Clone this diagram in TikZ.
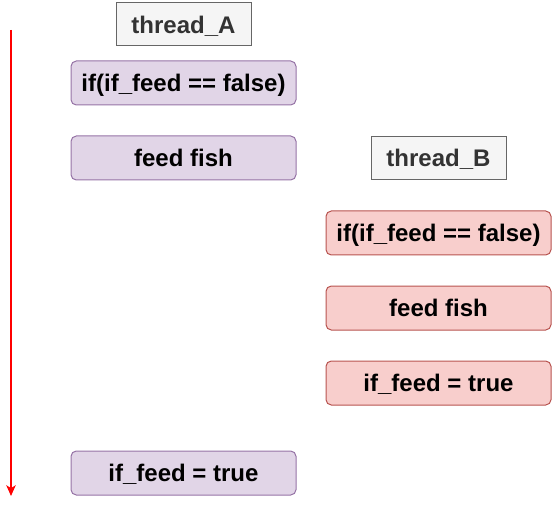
\documentclass[tikz,border=0pt]{standalone}
\usepackage{fontspec}
\setmainfont{Liberation Sans}
\usetikzlibrary{arrows.meta}
\definecolor{purpfill}{HTML}{E1D5E7}
\definecolor{purpline}{HTML}{9673A6}
\definecolor{redfill}{HTML}{F8CECC}
\definecolor{redline}{HTML}{B85450}
\definecolor{grayfill}{HTML}{F5F5F5}
\definecolor{grayline}{HTML}{666666}
\definecolor{graytext}{HTML}{333333}
\begin{document}
\begin{tikzpicture}[x=0.75pt,y=-0.75pt,
  txt/.style={font=\fontsize{18}{21}\selectfont\bfseries,text height=14pt,text depth=1pt},
  box/.style={txt,minimum width=225*0.75pt,minimum height=44*0.75pt,inner sep=0pt,line width=0.75pt,rounded corners=4pt},
  pbox/.style={box,draw=purpline,fill=purpfill},
  rbox/.style={box,draw=redline,fill=redfill},
  tbox/.style={txt,draw=grayline,fill=grayfill,text=graytext,minimum width=135*0.75pt,minimum height=43*0.75pt,inner sep=0pt,line width=0.75pt}]
\useasboundingbox (0,0) rectangle (552,509);
\node[tbox] (ta) at (183.5,24.5) {thread\_A};
\node[pbox] (a1) at (183.5,83) {if(if\_feed == false)};
\node[pbox] (a2) at (183.5,158) {feed fish};
\node[tbox] (tb) at (438.5,158) {thread\_B};
\node[rbox] (b1) at (438.5,233) {if(if\_feed == false)};
\node[rbox] (b2) at (438.5,308) {feed fish};
\node[rbox] (b3) at (438.5,383) {if\_feed = true};
\node[pbox] (a3) at (183.5,473) {if\_feed = true};
\coordinate (t0) at (11,30);
\coordinate (t1) at (11,496);
\draw[red,line width=1pt,-{Stealth[length=8pt,width=7pt,inset=2pt]}] (t0) -- (t1);
\end{tikzpicture}
\end{document}
